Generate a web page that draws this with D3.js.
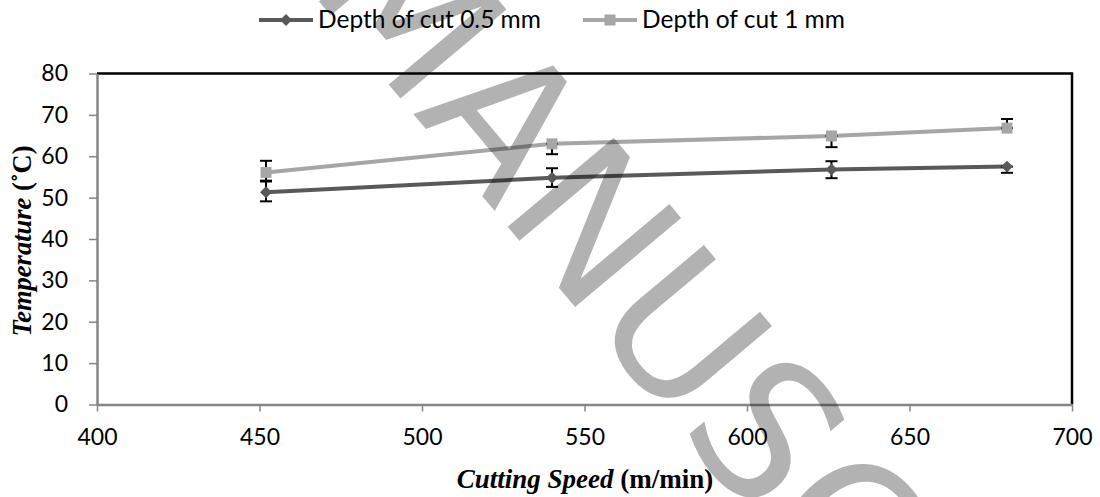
<!DOCTYPE html>
<html>
<head>
<meta charset="utf-8">
<script src="https://cdn.jsdelivr.net/npm/d3@7"></script>
<style>
  body { margin: 0; background: #fff; }
  svg { display: block; }
</style>
</head>
<body>
<div id="chart"></div>
<script>
// values
var speeds = [452, 540, 626, 680];
var depth05 = [51.3, 54.8, 56.8, 57.5];
var depth05Plus = [2.6, 2.3, 2, 0];
var depth05Minus = [2.2, 2.2, 2.1, 1.5];
var depth1 = [56.1, 63, 64.9, 66.8];
var depth1Plus = [2.8, 0, 0, 2.2];
var depth1Minus = [2, 2.5, 2.7, 0];
var xTicks = [400, 450, 500, 550, 600, 650, 700];
var yTicks = [0, 10, 20, 30, 40, 50, 60, 70, 80];
var seriesNames = ["Depth of cut 0.5 mm", "Depth of cut 1 mm"];

var W = 1100, H = 497;
var plot = { left: 97, right: 1072, top: 73.5, bottom: 404.5 };
var tickFont = "Lato, 'Open Sans', sans-serif";

var svg = d3.select("#chart").append("svg")
    .attr("width", W)
    .attr("height", H);

var x = d3.scaleLinear().domain([400, 700]).range([plot.left, plot.right]);
var y = d3.scaleLinear().domain([0, 80]).range([plot.bottom, plot.top]);

var series = [
    { name: seriesNames[0], values: depth05, plus: depth05Plus, minus: depth05Minus, color: "#595959", marker: "diamond" },
    { name: seriesNames[1], values: depth1, plus: depth1Plus, minus: depth1Minus, color: "#a6a6a6", marker: "square" }
];

// plot area border (top and right black)
svg.append("path")
    .attr("d", "M" + plot.left + "," + plot.top + "H" + plot.right + "V" + plot.bottom)
    .attr("fill", "none")
    .attr("stroke", "#000")
    .attr("stroke-width", 2.5);

// x axis
var xAxis = svg.append("g")
    .attr("transform", "translate(0," + plot.bottom + ")")
    .call(d3.axisBottom(x).tickValues(xTicks).tickSize(7).tickPadding(17).tickSizeOuter(0));
// y axis
var yAxis = svg.append("g")
    .attr("transform", "translate(" + plot.left + ",0)")
    .call(d3.axisLeft(y).tickValues(yTicks).tickSize(8).tickPadding(21).tickSizeOuter(0));

[xAxis, yAxis].forEach(function(a) {
    a.select(".domain").attr("stroke", "#868686").attr("stroke-width", 2.5);
    a.selectAll(".tick line").attr("stroke", "#868686").attr("stroke-width", 1.5);
    a.selectAll(".tick text")
        .attr("font-family", tickFont)
        .attr("font-size", 23)
        .attr("fill", "#000");
});

// series lines, error bars, markers
var line = d3.line()
    .x(function(d) { return x(d.s); })
    .y(function(d) { return y(d.v); });

function markerPath(kind) {
    return kind === "diamond"
        ? d3.symbol().type(d3.symbolDiamond2).size(90)()
        : d3.symbol().type(d3.symbolSquare).size(121)();
}

series.forEach(function(sr) {
    var pts = speeds.map(function(s, i) {
        return { s: s, v: sr.values[i], hi: sr.values[i] + sr.plus[i], lo: sr.values[i] - sr.minus[i] };
    });

    svg.append("path")
        .datum(pts)
        .attr("d", line)
        .attr("fill", "none")
        .attr("stroke", sr.color)
        .attr("stroke-width", 4);

    var eb = svg.append("g").selectAll("g")
        .data(pts)
        .enter().append("g")
        .attr("stroke", "#000")
        .attr("stroke-width", 2);
    eb.append("line")
        .attr("x1", function(d) { return x(d.s); })
        .attr("x2", function(d) { return x(d.s); })
        .attr("y1", function(d) { return y(d.lo); })
        .attr("y2", function(d) { return y(d.hi); });
    eb.append("line")
        .attr("x1", function(d) { return x(d.s) - 6; })
        .attr("x2", function(d) { return x(d.s) + 6; })
        .attr("y1", function(d) { return y(d.hi); })
        .attr("y2", function(d) { return y(d.hi); });
    eb.append("line")
        .attr("x1", function(d) { return x(d.s) - 6; })
        .attr("x2", function(d) { return x(d.s) + 6; })
        .attr("y1", function(d) { return y(d.lo); })
        .attr("y2", function(d) { return y(d.lo); });

    svg.append("g").selectAll("path")
        .data(pts)
        .enter().append("path")
        .attr("d", markerPath(sr.marker))
        .attr("transform", function(d) { return "translate(" + x(d.s) + "," + y(d.v) + ")"; })
        .attr("fill", sr.color);
});

// legend
var legendX = [259, 583];
var legend = svg.append("g").selectAll("g")
    .data(series)
    .enter().append("g")
    .attr("transform", function(d, i) { return "translate(" + legendX[i] + ",20)"; });
legend.append("line")
    .attr("x1", 0).attr("x2", 54)
    .attr("stroke", function(d) { return d.color; })
    .attr("stroke-width", 4);
legend.append("path")
    .attr("d", function(d) { return markerPath(d.marker); })
    .attr("transform", "translate(27,0)")
    .attr("fill", function(d) { return d.color; });
legend.append("text")
    .attr("x", 59)
    .attr("y", 8)
    .attr("font-family", tickFont)
    .attr("font-size", 24.5)
    .text(function(d) { return d.name; });

// axis titles
var xt = svg.append("text")
    .attr("x", 585)
    .attr("y", 488)
    .attr("text-anchor", "middle")
    .attr("font-family", "'Liberation Serif', 'Times New Roman', serif")
    .attr("font-size", 27)
    .attr("font-weight", "bold");
xt.append("tspan").attr("font-style", "italic").text("Cutting Speed");
xt.append("tspan").text(" (m/min)");

var yt = svg.append("text")
    .attr("transform", "translate(31,241) rotate(-90)")
    .attr("text-anchor", "middle")
    .attr("font-family", "'Liberation Serif', 'Times New Roman', serif")
    .attr("font-size", 26.5)
    .attr("font-weight", "bold");
yt.append("tspan").attr("font-style", "italic").text("Temperature");
yt.append("tspan").text(" (\u02DAC)");

// manuscript watermark on top
var wmSize = 190;
var wm = svg.append("g")
    .attr("transform", "translate(685,330) rotate(50)")
    .attr("pointer-events", "none");
var wmText = wm.append("text")
    .attr("font-family", "'DejaVu Sans', sans-serif")
    .attr("font-size", wmSize)
    .attr("fill", "#000")
    .attr("fill-opacity", 0.3)
    .text("MANUSCRIPT");
var node = wmText.node();
var before = node.getSubStringLength(0, 3);
var uW = node.getSubStringLength(3, 1);
wmText.attr("x", -(before + uW / 2)).attr("y", wmSize * 0.73 / 2);
</script>
</body>
</html>
